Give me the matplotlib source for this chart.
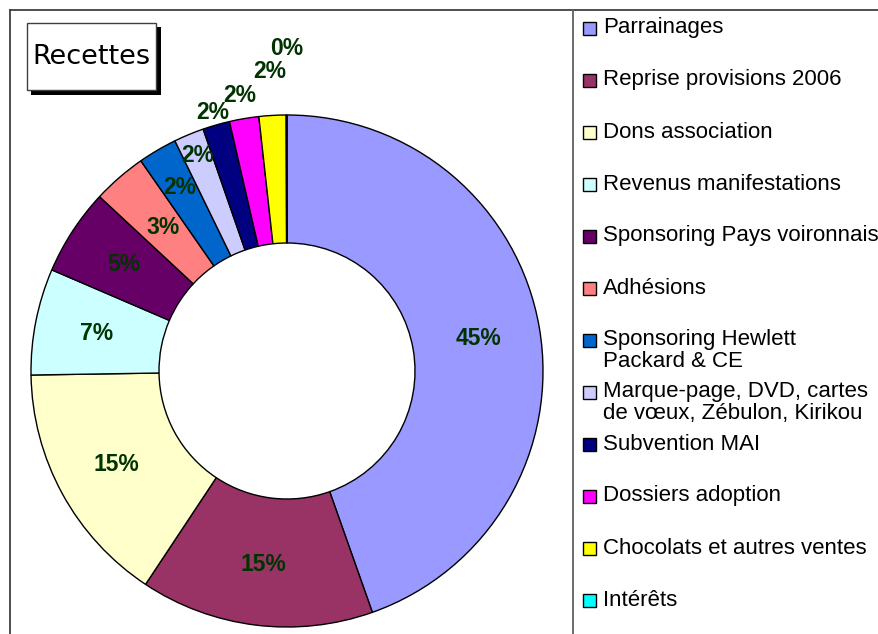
import matplotlib
matplotlib.use("Agg")
import numpy as np
import matplotlib.pyplot as plt
from matplotlib.patches import Rectangle

# Recettes (share of total)
categories = [
    "Parrainages",
    "Reprise provisions 2006",
    "Dons association",
    "Revenus manifestations",
    "Sponsoring Pays voironnais",
    "Adhésions",
    "Sponsoring Hewlett\nPackard & CE",
    "Marque-page, DVD, cartes\nde vœux, Zébulon, Kirikou",
    "Subvention MAI",
    "Dossiers adoption",
    "Chocolats et autres ventes",
    "Intérêts",
]
values = [44.5, 14.7, 15.4, 6.7, 5.45, 3.4, 2.45, 1.9, 1.7, 1.85, 1.7, 0.05]
colors = ["#9999FF", "#993366", "#FFFFCC", "#CCFFFF", "#660066", "#FF8080",
          "#0066CC", "#CCCCFF", "#000080", "#FF00FF", "#FFFF00", "#00FFFF"]

# radius of each percentage label (Excel pushed the small ones outward)
label_r = [0.76, 0.76, 0.76, 0.76, 0.76, 0.74, 0.83, 0.91, 1.05, 1.09, 1.17, 1.26]

W, H = 879, 634
fig = plt.figure(figsize=(W / 100, H / 100), dpi=100)

# overlay in pixel coordinates for frame, title box and legend
bg = fig.add_axes([0, 0, 1, 1])
bg.set_xlim(0, W)
bg.set_ylim(H, 0)
bg.axis("off")

frame_col = "#404040"
bg.plot([10, W], [10, 10], color=frame_col, lw=1.3)
bg.plot([10, 10], [10, H], color=frame_col, lw=1.3)
bg.plot([573, 573], [10, H], color="#606060", lw=1.3)

# title box with shadow
bg.add_patch(Rectangle((31, 27), 130, 68, facecolor="black", edgecolor="none"))
bg.add_patch(Rectangle((27, 23), 129, 67, facecolor="white", edgecolor="#404040", lw=1))
bg.text(91.5, 57, "Recettes", fontsize=19.5, family="DejaVu Sans",
        ha="center", va="center")

# legend
for i, (name, c) in enumerate(zip(categories, colors)):
    y = 28 + 52 * i
    bg.add_patch(Rectangle((583, y - 6.5), 13, 13, facecolor=c,
                           edgecolor="black", lw=1))
    for k, line in enumerate(name.split("\n")):
        bg.text(603, y + 21.5 * k, line, fontsize=16, family="Liberation Sans",
                ha="left", va="center")

# donut
cx, cy, R = 287, 371, 256
ax = fig.add_axes([(cx - R) / W, (H - cy - R) / H, 2 * R / W, 2 * R / H])
ax.pie(values, colors=colors, startangle=90, counterclock=False, radius=1,
       wedgeprops=dict(width=0.5, edgecolor="black", linewidth=1))
ax.set_xlim(-1, 1)
ax.set_ylim(-1, 1)
ax.set_aspect("equal")
ax.axis("off")
ax.patch.set_alpha(0)

total = sum(values)
cum = np.cumsum([0] + values)
for i, v in enumerate(values):
    mid = np.deg2rad((cum[i] + v / 2) / total * 360)
    r = label_r[i]
    ax.text(r * np.sin(mid), r * np.cos(mid), f"{round(v / total * 100):.0f}%",
            ha="center", va="center", fontsize=16.5, fontweight="bold",
            family="Liberation Sans", color="#003300", clip_on=False)

fig.savefig("out.png", dpi=100)
